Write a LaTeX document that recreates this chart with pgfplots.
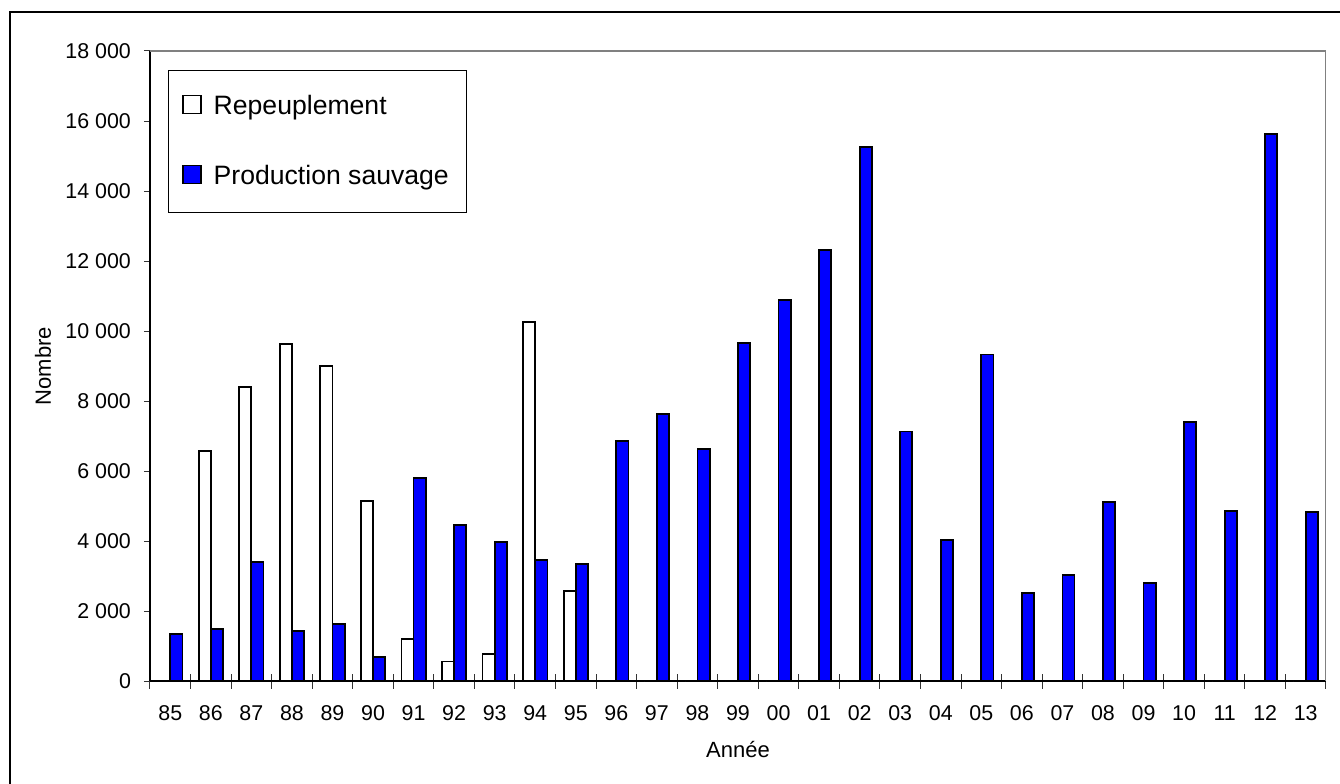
\documentclass[border=0pt]{standalone}
\usepackage{pgfplots}
\pgfplotsset{compat=1.18}
\usepackage{fontspec}
\setmainfont{Liberation Sans}
\definecolor{barblue}{RGB}{0,0,255}
\begin{document}
\begin{tikzpicture}
\path[use as bounding box] (-75pt,-51pt) rectangle (595pt,340.5pt);
\draw[line width=0.8pt] (-70pt,-60pt) -- (-70pt,334.5pt) -- (600pt,334.5pt);
\begin{axis}[
  at={(0,0)}, anchor=south west,
  scale only axis, width=588pt, height=315pt,
  ybar=0pt, bar width=0.3,
  xmin=-0.5, xmax=28.5, ymin=0, ymax=18000,
  axis lines*=left,
  axis line style={line width=0.6pt, black},
  tick pos=left,
  xtick={0,...,28},
  xticklabels={85,86,87,88,89,90,91,92,93,94,95,96,97,98,99,00,01,02,03,04,05,06,07,08,09,10,11,12,13},
  minor xtick={-0.5,0.5,...,28.5},
  major x tick style={draw=none},
  minor tick length=7.5pt,
  xtick align=center,
  ytick={0,2000,...,18000},
  ytick align=outside,
  major tick length=3pt,
  every tick/.style={black!80, line width=0.5pt},
  font=\fontsize{10.7}{12}\selectfont,
  ticklabel style={font=\fontsize{10.7}{12}\selectfont},
  yticklabel style={xshift=-3pt},
  xticklabel style={anchor=base, yshift=-18pt},
  /pgf/number format/assume math mode=true,
  yticklabel={\pgfmathprintnumber[fixed,precision=0,1000 sep={\ }]{\tick}},
  scaled y ticks=false,
  xlabel={Année},
  ylabel={Nombre},
  xlabel style={at={(axis description cs:0.5,-0.108)}, anchor=center, font=\fontsize{11}{12}\selectfont},
  ylabel style={at={(axis description cs:-0.091,0.5)}, anchor=center, rotate=0, font=\fontsize{11}{12}\selectfont},
  legend cell align=left,
  legend style={at={(0,1)}, anchor=north west, xshift=9pt, yshift=-9.5pt,
    draw=black, line width=0.5pt, font=\fontsize{13.3}{16}\selectfont,
    row sep=19pt, inner xsep=7pt, inner ysep=10pt,
    nodes={text height=10pt, text depth=2pt},
    /tikz/every odd column/.append style={column sep=4pt}},
  legend image code/.code={\draw[#1, line width=0.6pt] (0pt,-3.5pt) rectangle (9pt,5.5pt);},
]
\addplot[draw=black, fill=white, line width=0.9pt] coordinates {
(0,0) (1,6580) (2,8390) (3,9630) (4,9010) (5,5150) (6,1200) (7,555) (8,775) (9,10250)
(10,2575) (11,0) (12,0) (13,0) (14,0) (15,0) (16,0) (17,0) (18,0) (19,0) (20,0)
(21,0) (22,0) (23,0) (24,0) (25,0) (26,0) (27,0) (28,0)};
\addplot[draw=black, fill=barblue, line width=0.9pt] coordinates {
(0,1345) (1,1477) (2,3390) (3,1437) (4,1629) (5,686) (6,5800) (7,4448) (8,3971) (9,3466)
(10,3343) (11,6857) (12,7619) (13,6638) (14,9666) (15,10886) (16,12314) (17,15257)
(18,7126) (19,4026) (20,9329) (21,2511) (22,3029) (23,5106) (24,2797) (25,7411)
(26,4851) (27,15620) (28,4828)};
\legend{Repeuplement, Production sauvage}
\draw[gray, line width=0.8pt] (rel axis cs:0,1) -- (rel axis cs:1,1) -- (rel axis cs:1,0);
\end{axis}
\end{tikzpicture}
\end{document}
